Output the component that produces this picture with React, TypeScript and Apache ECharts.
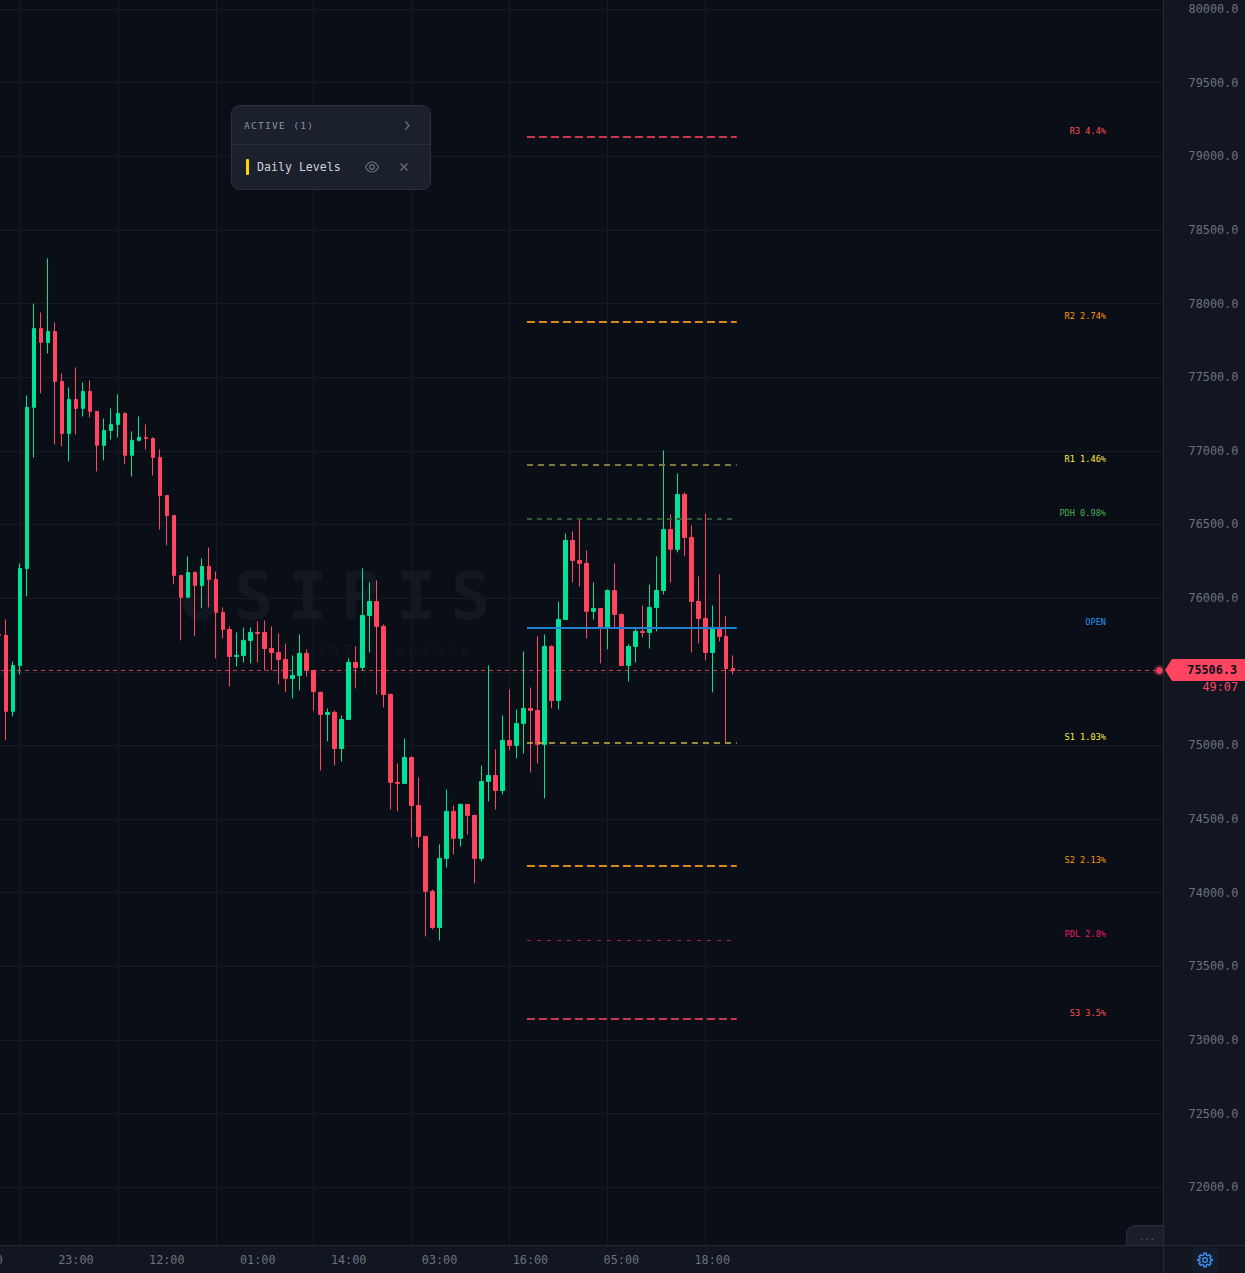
import React, { useEffect, useRef } from "react";
import * as echarts from "echarts";

// Hourly candles. The first two slots sit left of the visible area.
const opens = ["-", "-", 75753,
  75747, 75231, 75543, 76201, 77295, 77831, 77736, 77810, 77471, 77118,
  77349, 77288, 77403, 77268, 77037, 77138, 77179, 77254, 76969, 77071,
  77091, 77084, 76955, 76697, 76561, 76154, 76005, 76174, 76086, 76215,
  76127, 75903, 75787, 75604, 75611, 75713, 75767, 75767, 75658, 75631,
  75584, 75455, 75475, 75625, 75509, 75360, 75210, 75224, 74979, 75176,
  75563, 75529, 75882, 75977, 75808, 75346, 74749, 74742, 74918, 74592,
  74382, 74009, 73764, 74233, 74552, 74369, 74599, 74525, 74233, 74755,
  74796, 74694, 75034, 75000, 75149, 75251, 75237, 75007, 75672, 75305,
  75855, 76392, 76256, 76236, 75910, 75930, 75794, 76052, 75889, 75543,
  75672, 75774, 75767, 75937, 76052, 76466, 76331, 76704, 76412, 75977,
  75862, 75631, 75801, 75740, 75522];
const closes = ["-", "-", 75747,
  75231, 75543, 76201, 77295, 77831, 77736, 77810, 77471, 77118, 77349,
  77288, 77403, 77268, 77037, 77138, 77179, 77254, 76969, 77071, 77091,
  77084, 76955, 76697, 76561, 76154, 76005, 76174, 76086, 76215, 76127,
  75903, 75787, 75604, 75611, 75713, 75767, 75760, 75658, 75631, 75584,
  75455, 75475, 75625, 75509, 75366, 75210, 75224, 74979, 75176, 75563,
  75529, 75882, 75977, 75808, 75346, 74749, 74742, 74918, 74592, 74382,
  74009, 73764, 74233, 74552, 74369, 74599, 74525, 74233, 74755, 74796,
  74694, 75034, 75000, 75149, 75251, 75237, 75007, 75672, 75305, 75855,
  76392, 76256, 76236, 75910, 75930, 75794, 76052, 75889, 75543, 75672,
  75774, 75767, 75937, 76052, 76466, 76331, 76704, 76412, 75977, 75862,
  75631, 75801, 75740, 75522, 75506.3];
const lows = ["-", "-", 75747,
  75034, 75197, 75482, 76011, 76955, 77390, 77661, 77043, 77030, 76928,
  77111, 77233, 77227, 76860, 76935, 77077, 77091, 76908, 76826, 77064,
  77009, 76833, 76466, 76358, 76093, 75713, 76005, 75740, 75930, 75937,
  75591, 75726, 75400, 75536, 75563, 75557, 75563, 75509, 75509, 75414,
  75360, 75319, 75373, 75468, 75237, 74830, 75027, 74864, 74891, 75176,
  75387, 75509, 75631, 75346, 75258, 74565, 74552, 74742, 74375, 74307,
  73703, 73751, 73676, 74172, 74260, 74314, 74396, 74063, 74212, 74620,
  74565, 74667, 74966, 74912, 74945, 74816, 74878, 74640, 75251, 75244,
  75855, 76106, 76079, 75726, 75855, 75557, 75652, 75794, 75536, 75434,
  75563, 75733, 75658, 75774, 76025, 76106, 76310, 76283, 75631, 75692,
  75577, 75360, 75706, 75020, 75482];
const highs = ["-", "-", 75753,
  75855, 75570, 76236, 77376, 77999, 77939, 78306, 77872, 77525, 77430,
  77566, 77464, 77478, 77268, 77220, 77288, 77383, 77261, 77132, 77233,
  77179, 77091, 77009, 76697, 76561, 76154, 76283, 76181, 76269, 76344,
  76181, 75937, 75808, 75767, 75801, 75801, 75842, 75848, 75808, 75760,
  75692, 75611, 75753, 75652, 75509, 75366, 75251, 75237, 75203, 75591,
  75672, 76201, 76106, 76120, 75821, 75353, 74878, 75047, 74925, 74783,
  74382, 74022, 74328, 74701, 74592, 74606, 74599, 74525, 74864, 75543,
  74973, 75203, 75380, 75244, 75638, 75393, 75740, 75753, 75679, 75977,
  76439, 76453, 76534, 76324, 76106, 75930, 76059, 76236, 75896, 75686,
  75794, 75950, 76093, 76283, 77003, 76568, 76846, 76717, 76493, 76147,
  76575, 75950, 76161, 75876, 75611];

// Time labels on the axis, one every 13 hourly bars.
const hourLabels = ["10:00", "23:00", "12:00", "01:00", "14:00", "03:00", "16:00", "05:00", "18:00"];
const hoursPerLabel = 13;
const slotCount = 169;

// Day-level overlays.
const levelNames = ["R3 4.4%", "R2 2.74%", "R1 1.46%", "PDH 0.98%", "OPEN", "S1 1.03%", "S2 2.13%", "PDL 2.8%", "S3 3.5%"];
const levelPrices = [79128, 77872, 76901, 76534, 75794, 75013, 74178, 73676, 73140];
const levelLineColors = ["#c9384f", "#d98a14", "#7f7a3a", "#2f5a32", "#1f7fd0", "#c8b545", "#d98a14", "#b51d52", "#c9384f"];
const levelTextColors = ["#ff5252", "#ff9800", "#ffeb3b", "#4caf50", "#2196f3", "#ffeb3b", "#ff9800", "#e91e63", "#ff5252"];
const levelWidths = [2, 2, 2, 2, 2, 1.4, 2, 1, 2];
const levelDashes = [[8, 4], [8, 4], [6, 5], [5, 5], null, [6, 5], [8, 4], [4, 6], [8, 4]];
const levelFirstSlot = 78;
const levelLastSlot = 107;

const lastPrice = 75506.3;
const countdown = "49:07";

const MONO = '"DejaVu Sans Mono", "Liberation Mono", monospace';
const BG = "#0a0e17";
const PANEL = "#121620";
const GRID = "#161a22";
const BORDER = "#262a33";
const UP = "#00e396";
const DOWN = "#ff4560";

const EYE =
  "M1 6.5C2.8 2.9 5 1.5 7.5 1.5S12.2 2.9 14 6.5C12.2 10.1 10 11.5 7.5 11.5S2.8 10.1 1 6.5ZM7.5 4.2A2.3 2.3 0 1 0 7.5 8.8A2.3 2.3 0 1 0 7.5 4.2Z";
const GEAR =
  "M12 8.5A3.5 3.5 0 1 0 12 15.5A3.5 3.5 0 1 0 12 8.5ZM10.3 2H13.7L14.2 4.8L16.2 5.6L18.5 4L20.9 6.4L19.2 8.7L20.1 10.7L22.9 11.2V12.9L20.1 13.4L19.2 15.4L20.9 17.6L18.5 20L16.2 18.4L14.2 19.2L13.7 22H10.3L9.8 19.2L7.8 18.4L5.5 20L3.1 17.6L4.8 15.4L3.9 13.4L1.1 12.9V11.2L3.9 10.7L4.8 8.7L3.1 6.4L5.5 4L7.8 5.6L9.8 4.8Z";

echarts.graphic.registerShape("eyeIcon", echarts.graphic.extendPath(EYE as any, {}) as any);
echarts.graphic.registerShape("gearIcon", echarts.graphic.extendPath(GEAR as any, {}) as any);

const slots = Array.from({ length: slotCount }, (_, i) => String(i));
const snap = (v: number) => Math.round(v - 0.5) + 0.5;

export default function App() {
  const ref = useRef<HTMLDivElement>(null);

  useEffect(() => {
    const chart = echarts.init(ref.current!, null, { renderer: "svg", width: 1245, height: 1273 });
    const gridLeft = -18.5;
    const gridWidth = 1181.8;
    const axisText = { color: "#6b7280", fontFamily: MONO, fontSize: 11.8 };

    const candleData = opens.map((o, i) =>
      o === "-" ? ["-", "-", "-", "-"] : [o, closes[i], lows[i], highs[i]]
    );

    const levelData = levelPrices.map((p, i) => [levelFirstSlot, levelLastSlot, p, i]);

    chart.setOption({
      animation: false,
      backgroundColor: BG,
      grid: { left: gridLeft, width: gridWidth, top: -64.75, height: 1325.7, containLabel: false, outerBoundsMode: "none" },
      xAxis: [
        {
          type: "category",
          data: slots,
          position: "bottom",
          offset: -15.95,
          z: 10,
          axisLine: { show: false },
          axisTick: { show: false },
          splitLine: { show: false },
          axisLabel: {
            ...axisText,
            margin: 9,
            interval: (i: number) => i % hoursPerLabel === 0 && i / hoursPerLabel < hourLabels.length,
            formatter: (_: string, i: number) => hourLabels[i / hoursPerLabel] ?? "",
          },
        },
        {
          type: "category",
          data: slots,
          position: "top",
          z: 0,
          axisLine: { show: false },
          axisTick: { show: false },
          axisLabel: { show: false },
          splitLine: {
            show: true,
            alignWithLabel: true,
            interval: (i: number) => (i - 5) % 14 === 0 && i <= 103,
            lineStyle: { color: GRID, width: 1 },
          },
        },
      ],
      yAxis: [
        {
          type: "value",
          position: "right",
          min: 71500,
          max: 80500,
          interval: 500,
          z: 10,
          axisLine: { show: false },
          axisTick: { show: false },
          splitLine: { show: false },
          axisLabel: {
            ...axisText,
            align: "right",
            margin: 75,
            showMinLabel: false,
            showMaxLabel: false,
            formatter: (v: number) => v.toFixed(1),
          },
        },
        {
          type: "value",
          position: "left",
          min: 71500,
          max: 80500,
          interval: 500,
          z: 0,
          axisLine: { show: false },
          axisTick: { show: false },
          axisLabel: { show: false },
          splitLine: { show: true, lineStyle: { color: GRID, width: 1 } },
        },
      ],
      series: [
        {
          type: "custom",
          name: "Last price",
          z: 1,
          coordinateSystem: "cartesian2d",
          data: [[0, slotCount - 1, lastPrice]],
          clip: false,
          renderItem: (_: any, api: any) => {
            const a = api.coord([api.value(0), api.value(2)]);
            const b = api.coord([api.value(1), api.value(2)]);
            const y = snap(a[1]);
            return {
              type: "group",
              children: [
                {
                  type: "line",
                  shape: { x1: a[0], y1: y, x2: b[0], y2: y },
                  style: { stroke: "#e0394f", lineWidth: 1, lineDash: [4, 4] },
                },
                { type: "circle", shape: { cx: b[0] - 0.5, cy: y, r: 5.5 }, style: { fill: "rgba(255,69,96,0.25)" } },
                { type: "circle", shape: { cx: b[0] - 0.5, cy: y, r: 3.5 }, style: { fill: "#e8405a" } },
              ],
            };
          },
        },
        {
          type: "candlestick",
          name: "Price",
          z: 2,
          barWidth: 4,
          data: candleData,
          itemStyle: {
            color: UP,
            color0: DOWN,
            borderColor: UP,
            borderColor0: DOWN,
            borderWidth: 1,
          },
        },
        {
          type: "custom",
          name: "Daily Levels",
          z: 3,
          coordinateSystem: "cartesian2d",
          data: levelData,
          encode: { x: 0, y: 2 },
          renderItem: (_: any, api: any) => {
            const k = api.value(3);
            const half = api.size([1, 0])[0] / 2;
            const a = api.coord([api.value(0), api.value(2)]);
            const b = api.coord([api.value(1), api.value(2)]);
            const y = levelWidths[k] === 1 ? snap(a[1]) : Math.round(a[1]);
            return {
              type: "group",
              children: [
                {
                  type: "line",
                  shape: { x1: a[0] - half, y1: y, x2: b[0] + half, y2: y },
                  style: { stroke: levelLineColors[k], lineWidth: levelWidths[k], lineDash: levelDashes[k] || undefined },
                },
                {
                  type: "text",
                  x: 1106,
                  y: a[1] - 6.5,
                  style: {
                    text: levelNames[k],
                    fill: levelTextColors[k],
                    font: `8.6px ${MONO}`,
                    align: "right",
                    verticalAlign: "middle",
                  },
                },
              ],
            };
          },
        },
      ],
      graphic: [
        // Watermark
        {
          type: "text",
          id: "wmMain",
          x: 342,
          y: 596,
          z: 0,
          style: { text: "OSIRIS", fill: "#13171f", font: `bold 66px ${MONO}`, align: "center", verticalAlign: "middle" },
        },
        {
          type: "text",
          id: "wmSub",
          x: 344,
          y: 649,
          z: 0,
          style: { text: "TRADING INTELLIGENCE", fill: "#13171f", font: `13px ${MONO}`, align: "center", verticalAlign: "middle" },
        },
        // Axis strips
        { type: "rect", z: 5, shape: { x: 1163.5, y: 0, width: 82, height: 1273 }, style: { fill: PANEL } },
        { type: "rect", z: 5, shape: { x: 0, y: 1245.5, width: 1245, height: 28 }, style: { fill: PANEL } },
        { type: "line", z: 6, shape: { x1: 1163.5, y1: 0, x2: 1163.5, y2: 1273 }, style: { stroke: BORDER, lineWidth: 1 } },
        { type: "line", z: 6, shape: { x1: 0, y1: 1245.5, x2: 1245, y2: 1245.5 }, style: { stroke: BORDER, lineWidth: 1 } },
        // Drawer tab
        {
          type: "rect",
          z: 6,
          shape: { x: 1126.5, y: 1225.5, width: 37, height: 20, r: [8, 0, 0, 0] },
          style: { fill: "#1a1f2b", stroke: "#2a2e38", lineWidth: 1 },
        },
        {
          type: "text",
          z: 7,
          x: 1147,
          y: 1237,
          style: { text: "...", fill: "#5b6270", font: `9px ${MONO}`, align: "center", verticalAlign: "middle" },
        },
        // Settings button
        { type: "rect", z: 6, shape: { x: 1192, y: 1247, width: 26, height: 26, r: 5 }, style: { fill: "#141c2b" } },
        {
          type: "gearIcon",
          z: 7,
          x: 1197,
          y: 1252,
          scaleX: 0.67,
          scaleY: 0.67,
          style: { fill: "none", stroke: "#3b8fe8", lineWidth: 2.2 },
        },
        // Last price tag
        {
          type: "polygon",
          z: 20,
          shape: { points: [[1165, 670], [1172, 659], [1245, 659], [1245, 681], [1172, 681]] },
          style: { fill: DOWN },
        },
        {
          type: "text",
          z: 21,
          x: 1237,
          y: 670,
          style: { text: lastPrice.toFixed(1), fill: "#0a0e17", font: `bold 11.8px ${MONO}`, align: "right", verticalAlign: "middle" },
        },
        {
          type: "text",
          z: 21,
          x: 1238,
          y: 687,
          style: { text: countdown, fill: DOWN, font: `11.8px ${MONO}`, align: "right", verticalAlign: "middle" },
        },
        // Active indicators panel
        {
          type: "rect",
          z: 30,
          shape: { x: 231.5, y: 105.5, width: 199, height: 84, r: 8 },
          style: { fill: "#1a202c", stroke: "#2a303c", lineWidth: 1 },
        },
        { type: "line", z: 31, shape: { x1: 232, y1: 144.5, x2: 430, y2: 144.5 }, style: { stroke: "#2a303c", lineWidth: 1 } },
        {
          type: "text",
          id: "activeTitle",
          z: 31,
          x: 244,
          y: 125.5,
          style: { text: "ACTIVE (1)", fill: "#8a909c", font: `9.5px ${MONO}`, align: "left", verticalAlign: "middle" },
        },
        {
          type: "polyline",
          z: 31,
          shape: { points: [[405.5, 121.5], [409, 125.5], [405.5, 129.5]] },
          style: { stroke: "#6a707c", lineWidth: 1.3, fill: "none" },
        },
        { type: "rect", z: 31, shape: { x: 246, y: 159, width: 3, height: 16, r: 1 }, style: { fill: "#ffd400" } },
        {
          type: "text",
          z: 31,
          x: 257,
          y: 167,
          style: { text: "Daily Levels", fill: "#cdd2da", font: `11.6px ${MONO}`, align: "left", verticalAlign: "middle" },
        },
        {
          type: "eyeIcon",
          z: 31,
          x: 364.5,
          y: 160.5,
          style: { fill: "none", stroke: "#6a707c", lineWidth: 1.2 },
        },
        { type: "line", z: 31, shape: { x1: 400.5, y1: 163.5, x2: 407.5, y2: 170.5 }, style: { stroke: "#6a707c", lineWidth: 1.3 } },
        { type: "line", z: 31, shape: { x1: 407.5, y1: 163.5, x2: 400.5, y2: 170.5 }, style: { stroke: "#6a707c", lineWidth: 1.3 } },
      ],
    });

    // Letter spacing is not a text option in ECharts; apply it to the SVG texts.
    const spacing: Record<string, string> = {
      OSIRIS: "14.5px",
      "TRADING INTELLIGENCE": "5.2px",
      "ACTIVE (1)": "1.3px",
    };
    ref.current!.querySelectorAll("text").forEach((t) => {
      const s = spacing[t.textContent || ""];
      if (s) (t as SVGTextElement).style.letterSpacing = s;
    });

    return () => chart.dispose();
  }, []);

  return <div ref={ref} style={{ width: 1245, height: 1273, position: "fixed", left: 0, top: 0 }} />;
}
